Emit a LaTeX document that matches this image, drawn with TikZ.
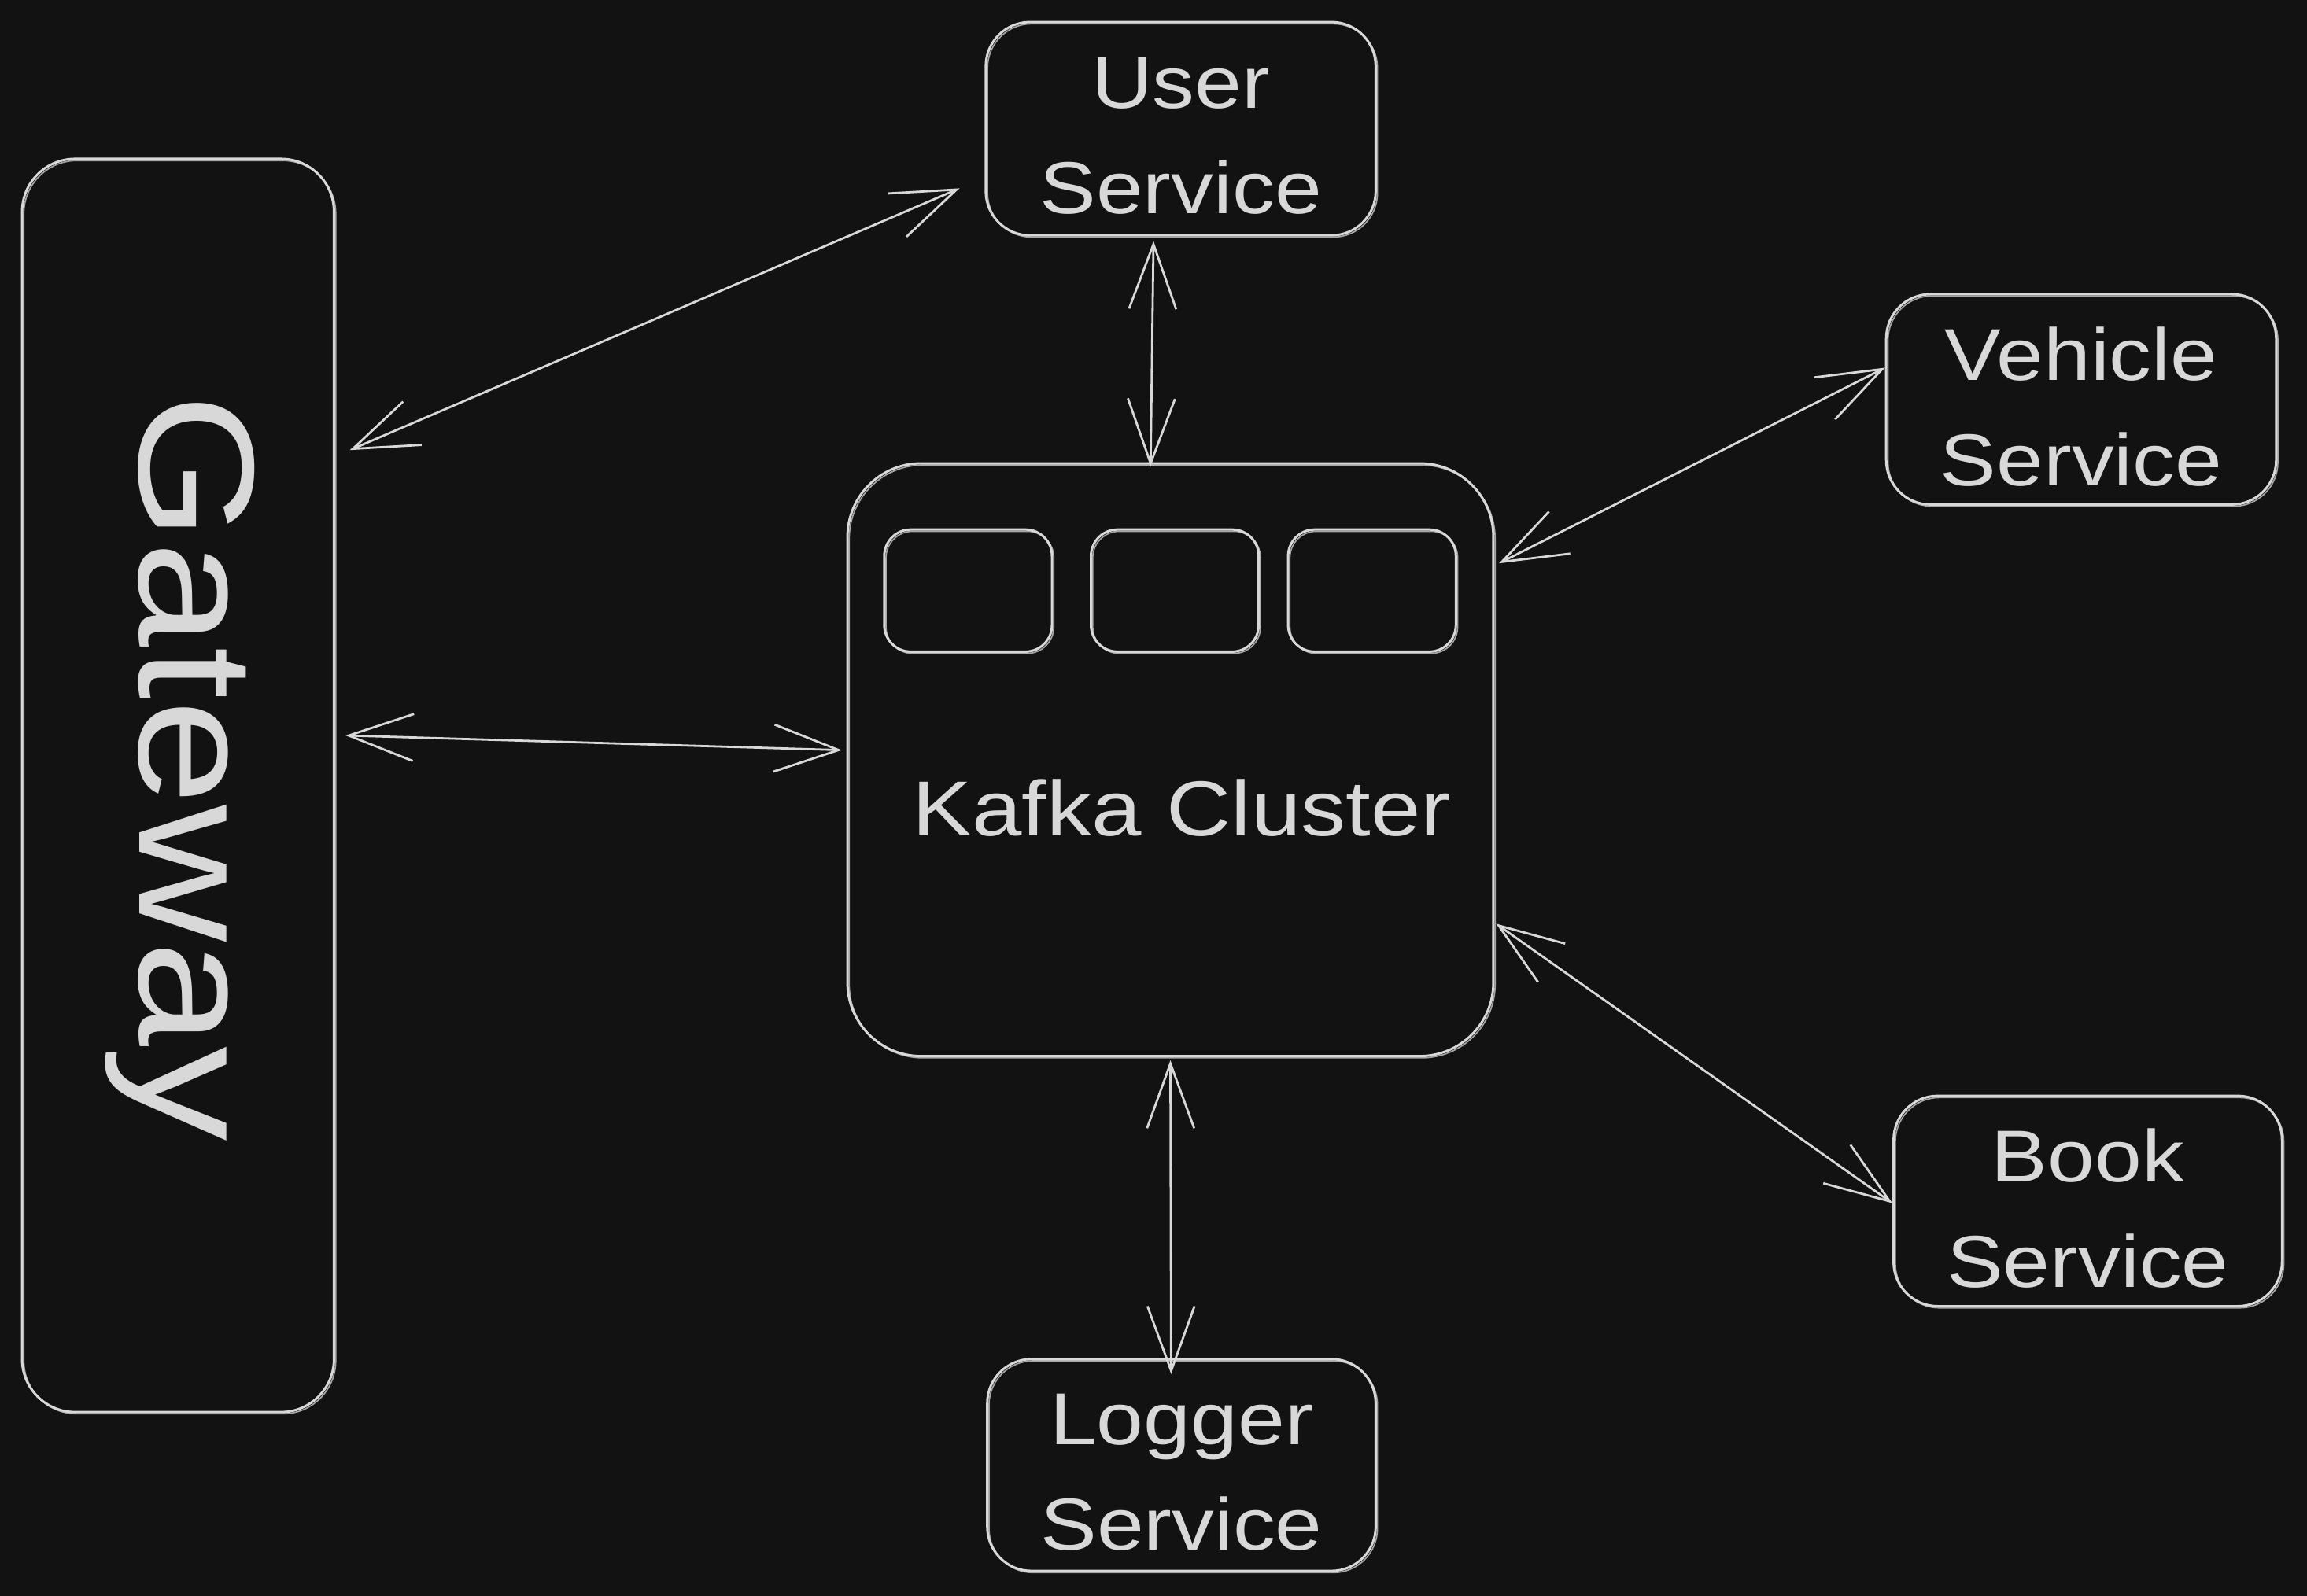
\documentclass[tikz,border=0pt]{standalone}
\usepackage{fontspec}
\setmainfont[FakeStretch=1.15]{Liberation Sans}
\usetikzlibrary{arrows.meta,calc}
\definecolor{bg}{HTML}{121212}
\definecolor{ink}{HTML}{D8D8D8}
\begin{document}
\begin{tikzpicture}[x=1pt,y=-1pt,
  sketch/.style={postaction={draw=ink, line width=0.9pt, opacity=0.75,
                 transform canvas={xshift=1.2pt, yshift=-1.2pt}}},
  box/.style={draw=ink, line width=1.6pt, rounded corners=30pt, inner sep=0pt, sketch},
  lbl/.style={text=ink, font=\fontsize{50}{72}\selectfont, align=center, yshift=-5pt},
  slot/.style={draw=ink, line width=1.6pt, rounded corners=18pt, inner sep=0pt, sketch,
               minimum width=114pt, minimum height=83pt},
  barb/.tip={Straight Barb[length=44pt,width=32pt]},
  link/.style={draw=ink, line width=1.5pt, line cap=round, barb-barb}]
\fill[bg] (0,0) rectangle (1568,1085);
\useasboundingbox (0,0) rectangle (1568,1085);

% boxes
\node[box, rounded corners=36pt, minimum width=212pt, minimum height=852pt] (gw) at (121,534) {};
\node[box, minimum width=265pt, minimum height=145pt,
      label={[lbl]center:User\\Service}] (user) at (802.5,87.5) {};
\node[box, minimum width=265pt, minimum height=143pt,
      label={[lbl]center:Vehicle\\Service}] (veh) at (1414.5,271.5) {};
\node[box, rounded corners=50pt, minimum width=439pt, minimum height=403pt] (kafka) at (795.5,516.5) {};
\node[box, minimum width=264pt, minimum height=143pt,
      label={[lbl]center:Book\\Service}] (book) at (1419,816.5) {};
\node[box, minimum width=264pt, minimum height=144pt,
      label={[lbl]center:Logger\\Service}] (log) at (803,996) {};

% partitions
\node[slot] (p1) at (658,401.5) {};
\node[slot] (p2) at (798.5,401.5) {};
\node[slot] (p3) at (932.5,401.5) {};

% labels
\node[text=ink, font=\fontsize{112}{112}\selectfont, rotate=-90, anchor=base, inner sep=0pt] (gwt) at (95,522) {Gateway};
\node[text=ink, font=\fontsize{53}{60}\selectfont, anchor=base, inner sep=0pt] (kt) at (803,568) {Kafka Cluster};

% connectors
\draw[link] ([xshift=10pt,yshift=228pt]gw.east) -- ([xshift=-17pt,yshift=-40.5pt]user.west);
\draw[link] ([xshift=-18.5pt,yshift=-3pt]user.south) -- ([xshift=-13.5pt,yshift=-3pt]kafka.north);
\draw[link] ([yshift=21.5pt]veh.west) -- ([xshift=3pt,yshift=133.5pt]kafka.east);
\draw[link] ([xshift=7pt,yshift=34pt]gw.east) -- ([xshift=-3pt,yshift=6.5pt]kafka.west);
\draw[link] ([xshift=1pt,yshift=-111.5pt]kafka.east) -- ([yshift=-1.5pt]book.west);
\draw[link] ([yshift=-2pt]kafka.south) -- ([xshift=-7pt,yshift=-11pt]log.north);
\end{tikzpicture}
\end{document}
